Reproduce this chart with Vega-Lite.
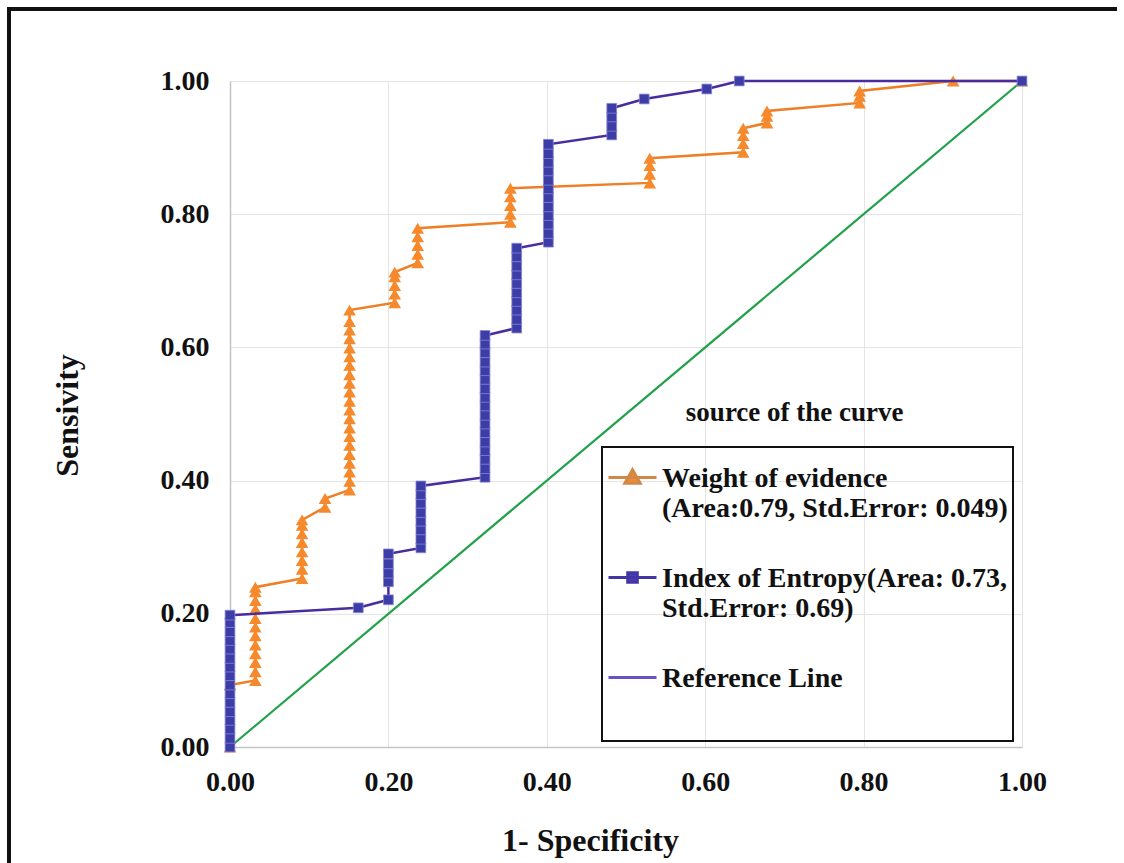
{
  "$schema": "https://vega.github.io/schema/vega-lite/v6.json",
  "width": 1108,
  "height": 854,
  "autosize": {"type": "none"},
  "padding": {"left": 9, "top": 9, "right": 7, "bottom": 0},
  "background": "white",
  "config": {
    "view": {"stroke": "#111111", "strokeWidth": 4, "strokeDash": [1108, 1962, 854]},
    "font": "Liberation Serif"
  },
  "data": {
    "values": [
      {"series": "Reference Line", "fpr": 0, "tpr": 0},
      {"series": "Reference Line", "fpr": 1, "tpr": 1},
      {"series": "Weight of evidence", "fpr": 0, "tpr": 0},
      {"series": "Weight of evidence", "fpr": 0, "tpr": 0.093},
      {"series": "Weight of evidence", "fpr": 0.032, "tpr": 0.1},
      {"series": "Weight of evidence", "fpr": 0.032, "tpr": 0.113},
      {"series": "Weight of evidence", "fpr": 0.032, "tpr": 0.127},
      {"series": "Weight of evidence", "fpr": 0.032, "tpr": 0.14},
      {"series": "Weight of evidence", "fpr": 0.032, "tpr": 0.153},
      {"series": "Weight of evidence", "fpr": 0.032, "tpr": 0.167},
      {"series": "Weight of evidence", "fpr": 0.032, "tpr": 0.18},
      {"series": "Weight of evidence", "fpr": 0.032, "tpr": 0.193},
      {"series": "Weight of evidence", "fpr": 0.032, "tpr": 0.207},
      {"series": "Weight of evidence", "fpr": 0.032, "tpr": 0.22},
      {"series": "Weight of evidence", "fpr": 0.032, "tpr": 0.233},
      {"series": "Weight of evidence", "fpr": 0.032, "tpr": 0.24},
      {"series": "Weight of evidence", "fpr": 0.091, "tpr": 0.253},
      {"series": "Weight of evidence", "fpr": 0.091, "tpr": 0.267},
      {"series": "Weight of evidence", "fpr": 0.091, "tpr": 0.28},
      {"series": "Weight of evidence", "fpr": 0.091, "tpr": 0.293},
      {"series": "Weight of evidence", "fpr": 0.091, "tpr": 0.307},
      {"series": "Weight of evidence", "fpr": 0.091, "tpr": 0.32},
      {"series": "Weight of evidence", "fpr": 0.091, "tpr": 0.333},
      {"series": "Weight of evidence", "fpr": 0.091, "tpr": 0.341},
      {"series": "Weight of evidence", "fpr": 0.12, "tpr": 0.36},
      {"series": "Weight of evidence", "fpr": 0.12, "tpr": 0.373},
      {"series": "Weight of evidence", "fpr": 0.151, "tpr": 0.386},
      {"series": "Weight of evidence", "fpr": 0.151, "tpr": 0.399},
      {"series": "Weight of evidence", "fpr": 0.151, "tpr": 0.413},
      {"series": "Weight of evidence", "fpr": 0.151, "tpr": 0.426},
      {"series": "Weight of evidence", "fpr": 0.151, "tpr": 0.439},
      {"series": "Weight of evidence", "fpr": 0.151, "tpr": 0.453},
      {"series": "Weight of evidence", "fpr": 0.151, "tpr": 0.466},
      {"series": "Weight of evidence", "fpr": 0.151, "tpr": 0.479},
      {"series": "Weight of evidence", "fpr": 0.151, "tpr": 0.493},
      {"series": "Weight of evidence", "fpr": 0.151, "tpr": 0.506},
      {"series": "Weight of evidence", "fpr": 0.151, "tpr": 0.519},
      {"series": "Weight of evidence", "fpr": 0.151, "tpr": 0.533},
      {"series": "Weight of evidence", "fpr": 0.151, "tpr": 0.546},
      {"series": "Weight of evidence", "fpr": 0.151, "tpr": 0.559},
      {"series": "Weight of evidence", "fpr": 0.151, "tpr": 0.573},
      {"series": "Weight of evidence", "fpr": 0.151, "tpr": 0.586},
      {"series": "Weight of evidence", "fpr": 0.151, "tpr": 0.599},
      {"series": "Weight of evidence", "fpr": 0.151, "tpr": 0.613},
      {"series": "Weight of evidence", "fpr": 0.151, "tpr": 0.626},
      {"series": "Weight of evidence", "fpr": 0.151, "tpr": 0.639},
      {"series": "Weight of evidence", "fpr": 0.151, "tpr": 0.656},
      {"series": "Weight of evidence", "fpr": 0.208, "tpr": 0.667},
      {"series": "Weight of evidence", "fpr": 0.208, "tpr": 0.68},
      {"series": "Weight of evidence", "fpr": 0.208, "tpr": 0.693},
      {"series": "Weight of evidence", "fpr": 0.208, "tpr": 0.706},
      {"series": "Weight of evidence", "fpr": 0.208, "tpr": 0.713},
      {"series": "Weight of evidence", "fpr": 0.237, "tpr": 0.727},
      {"series": "Weight of evidence", "fpr": 0.237, "tpr": 0.74},
      {"series": "Weight of evidence", "fpr": 0.237, "tpr": 0.753},
      {"series": "Weight of evidence", "fpr": 0.237, "tpr": 0.766},
      {"series": "Weight of evidence", "fpr": 0.237, "tpr": 0.779},
      {"series": "Weight of evidence", "fpr": 0.354, "tpr": 0.788},
      {"series": "Weight of evidence", "fpr": 0.354, "tpr": 0.8},
      {"series": "Weight of evidence", "fpr": 0.354, "tpr": 0.813},
      {"series": "Weight of evidence", "fpr": 0.354, "tpr": 0.826},
      {"series": "Weight of evidence", "fpr": 0.354, "tpr": 0.839},
      {"series": "Weight of evidence", "fpr": 0.53, "tpr": 0.847},
      {"series": "Weight of evidence", "fpr": 0.53, "tpr": 0.86},
      {"series": "Weight of evidence", "fpr": 0.53, "tpr": 0.873},
      {"series": "Weight of evidence", "fpr": 0.53, "tpr": 0.884},
      {"series": "Weight of evidence", "fpr": 0.648, "tpr": 0.893},
      {"series": "Weight of evidence", "fpr": 0.648, "tpr": 0.906},
      {"series": "Weight of evidence", "fpr": 0.648, "tpr": 0.918},
      {"series": "Weight of evidence", "fpr": 0.648, "tpr": 0.929},
      {"series": "Weight of evidence", "fpr": 0.678, "tpr": 0.937},
      {"series": "Weight of evidence", "fpr": 0.678, "tpr": 0.947},
      {"series": "Weight of evidence", "fpr": 0.678, "tpr": 0.955},
      {"series": "Weight of evidence", "fpr": 0.795, "tpr": 0.967},
      {"series": "Weight of evidence", "fpr": 0.795, "tpr": 0.977},
      {"series": "Weight of evidence", "fpr": 0.795, "tpr": 0.985},
      {"series": "Weight of evidence", "fpr": 0.913, "tpr": 1.0},
      {"series": "Weight of evidence", "fpr": 1, "tpr": 1},
      {"series": "Index of Entropy", "fpr": 0, "tpr": 0},
      {"series": "Index of Entropy", "fpr": 0, "tpr": 0.013},
      {"series": "Index of Entropy", "fpr": 0, "tpr": 0.027},
      {"series": "Index of Entropy", "fpr": 0, "tpr": 0.04},
      {"series": "Index of Entropy", "fpr": 0, "tpr": 0.053},
      {"series": "Index of Entropy", "fpr": 0, "tpr": 0.067},
      {"series": "Index of Entropy", "fpr": 0, "tpr": 0.08},
      {"series": "Index of Entropy", "fpr": 0, "tpr": 0.093},
      {"series": "Index of Entropy", "fpr": 0, "tpr": 0.107},
      {"series": "Index of Entropy", "fpr": 0, "tpr": 0.12},
      {"series": "Index of Entropy", "fpr": 0, "tpr": 0.133},
      {"series": "Index of Entropy", "fpr": 0, "tpr": 0.147},
      {"series": "Index of Entropy", "fpr": 0, "tpr": 0.16},
      {"series": "Index of Entropy", "fpr": 0, "tpr": 0.173},
      {"series": "Index of Entropy", "fpr": 0, "tpr": 0.187},
      {"series": "Index of Entropy", "fpr": 0, "tpr": 0.198},
      {"series": "Index of Entropy", "fpr": 0.162, "tpr": 0.209},
      {"series": "Index of Entropy", "fpr": 0.2, "tpr": 0.221},
      {"series": "Index of Entropy", "fpr": 0.2, "tpr": 0.248},
      {"series": "Index of Entropy", "fpr": 0.2, "tpr": 0.261},
      {"series": "Index of Entropy", "fpr": 0.2, "tpr": 0.275},
      {"series": "Index of Entropy", "fpr": 0.2, "tpr": 0.29},
      {"series": "Index of Entropy", "fpr": 0.241, "tpr": 0.299},
      {"series": "Index of Entropy", "fpr": 0.241, "tpr": 0.312},
      {"series": "Index of Entropy", "fpr": 0.241, "tpr": 0.326},
      {"series": "Index of Entropy", "fpr": 0.241, "tpr": 0.339},
      {"series": "Index of Entropy", "fpr": 0.241, "tpr": 0.352},
      {"series": "Index of Entropy", "fpr": 0.241, "tpr": 0.366},
      {"series": "Index of Entropy", "fpr": 0.241, "tpr": 0.379},
      {"series": "Index of Entropy", "fpr": 0.241, "tpr": 0.392},
      {"series": "Index of Entropy", "fpr": 0.322, "tpr": 0.405},
      {"series": "Index of Entropy", "fpr": 0.322, "tpr": 0.418},
      {"series": "Index of Entropy", "fpr": 0.322, "tpr": 0.432},
      {"series": "Index of Entropy", "fpr": 0.322, "tpr": 0.445},
      {"series": "Index of Entropy", "fpr": 0.322, "tpr": 0.458},
      {"series": "Index of Entropy", "fpr": 0.322, "tpr": 0.472},
      {"series": "Index of Entropy", "fpr": 0.322, "tpr": 0.485},
      {"series": "Index of Entropy", "fpr": 0.322, "tpr": 0.498},
      {"series": "Index of Entropy", "fpr": 0.322, "tpr": 0.512},
      {"series": "Index of Entropy", "fpr": 0.322, "tpr": 0.525},
      {"series": "Index of Entropy", "fpr": 0.322, "tpr": 0.538},
      {"series": "Index of Entropy", "fpr": 0.322, "tpr": 0.552},
      {"series": "Index of Entropy", "fpr": 0.322, "tpr": 0.565},
      {"series": "Index of Entropy", "fpr": 0.322, "tpr": 0.578},
      {"series": "Index of Entropy", "fpr": 0.322, "tpr": 0.592},
      {"series": "Index of Entropy", "fpr": 0.322, "tpr": 0.605},
      {"series": "Index of Entropy", "fpr": 0.322, "tpr": 0.618},
      {"series": "Index of Entropy", "fpr": 0.362, "tpr": 0.629},
      {"series": "Index of Entropy", "fpr": 0.362, "tpr": 0.642},
      {"series": "Index of Entropy", "fpr": 0.362, "tpr": 0.656},
      {"series": "Index of Entropy", "fpr": 0.362, "tpr": 0.669},
      {"series": "Index of Entropy", "fpr": 0.362, "tpr": 0.682},
      {"series": "Index of Entropy", "fpr": 0.362, "tpr": 0.696},
      {"series": "Index of Entropy", "fpr": 0.362, "tpr": 0.709},
      {"series": "Index of Entropy", "fpr": 0.362, "tpr": 0.722},
      {"series": "Index of Entropy", "fpr": 0.362, "tpr": 0.736},
      {"series": "Index of Entropy", "fpr": 0.362, "tpr": 0.749},
      {"series": "Index of Entropy", "fpr": 0.402, "tpr": 0.758},
      {"series": "Index of Entropy", "fpr": 0.402, "tpr": 0.771},
      {"series": "Index of Entropy", "fpr": 0.402, "tpr": 0.785},
      {"series": "Index of Entropy", "fpr": 0.402, "tpr": 0.798},
      {"series": "Index of Entropy", "fpr": 0.402, "tpr": 0.811},
      {"series": "Index of Entropy", "fpr": 0.402, "tpr": 0.825},
      {"series": "Index of Entropy", "fpr": 0.402, "tpr": 0.838},
      {"series": "Index of Entropy", "fpr": 0.402, "tpr": 0.851},
      {"series": "Index of Entropy", "fpr": 0.402, "tpr": 0.865},
      {"series": "Index of Entropy", "fpr": 0.402, "tpr": 0.878},
      {"series": "Index of Entropy", "fpr": 0.402, "tpr": 0.891},
      {"series": "Index of Entropy", "fpr": 0.402, "tpr": 0.905},
      {"series": "Index of Entropy", "fpr": 0.482, "tpr": 0.919},
      {"series": "Index of Entropy", "fpr": 0.482, "tpr": 0.932},
      {"series": "Index of Entropy", "fpr": 0.482, "tpr": 0.946},
      {"series": "Index of Entropy", "fpr": 0.482, "tpr": 0.959},
      {"series": "Index of Entropy", "fpr": 0.523, "tpr": 0.973},
      {"series": "Index of Entropy", "fpr": 0.602, "tpr": 0.988},
      {"series": "Index of Entropy", "fpr": 0.643, "tpr": 1.0},
      {"series": "Index of Entropy", "fpr": 1, "tpr": 1}
    ]
  },
  "layer": [
    {
      "mark": {"type": "line", "strokeWidth": 2, "strokeOpacity": 0},
      "encoding": {
        "x": {
          "field": "fpr", "type": "quantitative",
          "scale": {"domain": [0, 1], "range": [221, 1013], "nice": false, "zero": false},
          "axis": {
            "orient": "top", "offset": -738, "values": [0, 0.2, 0.4, 0.6, 0.8, 1], "format": ".2f",
            "grid": true, "gridColor": "#e4e4e4", "gridWidth": 1,
            "domainColor": "#c4c4c4", "domainWidth": 1.5,
            "ticks": false, "tickSize": 0,
            "labelPadding": -21, "labelBaseline": "top", "labelFlush": false, "labelOverlap": false,
            "labelFont": "Liberation Serif", "labelFontSize": 28, "labelFontWeight": "bold", "labelColor": "#111111",
            "title": "1- Specificity", "titleFont": "Liberation Serif", "titleFontSize": 32, "titleFontWeight": "bold", "titleColor": "#111111",
            "titleX": 581, "titleY": 103, "titleAlign": "center", "titleBaseline": "alphabetic"
          }
        },
        "y": {
          "field": "tpr", "type": "quantitative",
          "scale": {"domain": [0, 1], "range": [738, 72], "nice": false, "zero": false},
          "axis": {
            "orient": "left", "offset": -221, "values": [0, 0.2, 0.4, 0.6, 0.8, 1], "format": ".2f",
            "grid": true, "gridColor": "#e4e4e4", "gridWidth": 1,
            "domainColor": "#c4c4c4", "domainWidth": 1.5,
            "ticks": false, "tickSize": 0,
            "labelPadding": 21, "labelFlush": false, "labelOverlap": false,
            "labelFont": "Liberation Serif", "labelFontSize": 28, "labelFontWeight": "bold", "labelColor": "#111111",
            "title": "Sensivity", "titleFont": "Liberation Serif", "titleFontSize": 32, "titleFontWeight": "bold", "titleColor": "#111111",
            "titleX": -163, "titleY": 406, "titleAngle": -90, "titleAlign": "center", "titleBaseline": "middle"
          }
        },
        "order": [{"field": "fpr", "type": "quantitative"}, {"field": "tpr", "type": "quantitative"}],
        "color": {
          "field": "series", "type": "nominal",
          "scale": {"domain": ["Weight of evidence", "Index of Entropy", "Reference Line"], "range": ["#D08848", "#4536A6", "#6B52C2"]},
          "legend": {
            "orient": "none", "legendX": 593, "legendY": 438,
            "title": " ", "titleOrient": "bottom", "titleFontSize": 9, "titlePadding": 4,
            "padding": 5, "symbolSize": 2304, "labelOffset": 4, "rowPadding": 29,
            "labelFont": "Liberation Serif", "labelFontSize": 28, "labelFontWeight": "bold", "labelColor": "#111111",
            "labelBaseline": "top", "labelLimit": 600,
            "labelExpr": "datum.value === 'Weight of evidence' ? ['Weight of evidence', '(Area:0.79, Std.Error: 0.049)'] : datum.value === 'Index of Entropy' ? ['Index of Entropy(Area: 0.73,', 'Std.Error: 0.69)'] : ['Reference Line', '']",
            "strokeColor": "#111111",
            "encode": {
              "legend": {"update": {"strokeWidth": {"value": 2}}},
              "symbols": {"update": {
                "shape": {"signal": "datum.value === 'Weight of evidence' ? 'M-1,0H1M0,-0.32L0.32,0.24L-0.32,0.24Z' : datum.value === 'Index of Entropy' ? 'M-1,0H1M-0.2,-0.2H0.2V0.2H-0.2Z' : 'M-1,0H1'"},
                "fill": {"signal": "datum.value === 'Weight of evidence' ? '#F28A30' : datum.value === 'Index of Entropy' ? '#4141B0' : 'transparent'"},
                "strokeWidth": {"value": 3},
                "strokeOpacity": {"value": 1},
                "opacity": {"value": 1}
              }},
              "labels": {"update": {"dy": {"value": -13}, "lineHeight": {"value": 30}}}
            }
          }
        }
      }
    },
    {
      "transform": [{"filter": "datum.series === 'Reference Line'"}],
      "mark": {"type": "line", "strokeWidth": 2.2, "stroke": "#22A04A"},
      "encoding": {
        "x": {"field": "fpr", "type": "quantitative"},
        "y": {"field": "tpr", "type": "quantitative"},
        "order": [{"field": "fpr", "type": "quantitative"}, {"field": "tpr", "type": "quantitative"}]
      }
    },
    {
      "transform": [{"filter": "datum.series === 'Weight of evidence'"}],
      "mark": {"type": "line", "strokeWidth": 2.5, "stroke": "#EF7F26"},
      "encoding": {
        "x": {"field": "fpr", "type": "quantitative"},
        "y": {"field": "tpr", "type": "quantitative"},
        "order": [{"field": "fpr", "type": "quantitative"}, {"field": "tpr", "type": "quantitative"}]
      }
    },
    {
      "transform": [{"filter": "datum.series === 'Weight of evidence'"}],
      "mark": {"type": "point", "shape": "triangle-up", "filled": true, "size": 160, "fill": "#F5892C", "opacity": 1},
      "encoding": {
        "x": {"field": "fpr", "type": "quantitative"},
        "y": {"field": "tpr", "type": "quantitative"}
      }
    },
    {
      "transform": [{"filter": "datum.series === 'Index of Entropy'"}],
      "mark": {"type": "line", "strokeWidth": 2.5, "stroke": "#4A2C9E"},
      "encoding": {
        "x": {"field": "fpr", "type": "quantitative"},
        "y": {"field": "tpr", "type": "quantitative"},
        "order": [{"field": "fpr", "type": "quantitative"}, {"field": "tpr", "type": "quantitative"}]
      }
    },
    {
      "transform": [{"filter": "datum.series === 'Index of Entropy'"}],
      "mark": {"type": "point", "shape": "square", "filled": true, "size": 95, "fill": "#3D3DA8", "stroke": "#8585D2", "strokeWidth": 0.8, "opacity": 1},
      "encoding": {
        "x": {"field": "fpr", "type": "quantitative"},
        "y": {"field": "tpr", "type": "quantitative"}
      }
    },
    {
      "data": {"values": [{"label": "source of the curve"}]},
      "mark": {"type": "text", "font": "Liberation Serif", "fontSize": 27, "fontWeight": "bold", "color": "#111111", "align": "center", "baseline": "middle"},
      "encoding": {
        "x": {"datum": 0.713, "type": "quantitative"},
        "y": {"datum": 0.5015, "type": "quantitative"},
        "text": {"field": "label"}
      }
    }
  ]
}
